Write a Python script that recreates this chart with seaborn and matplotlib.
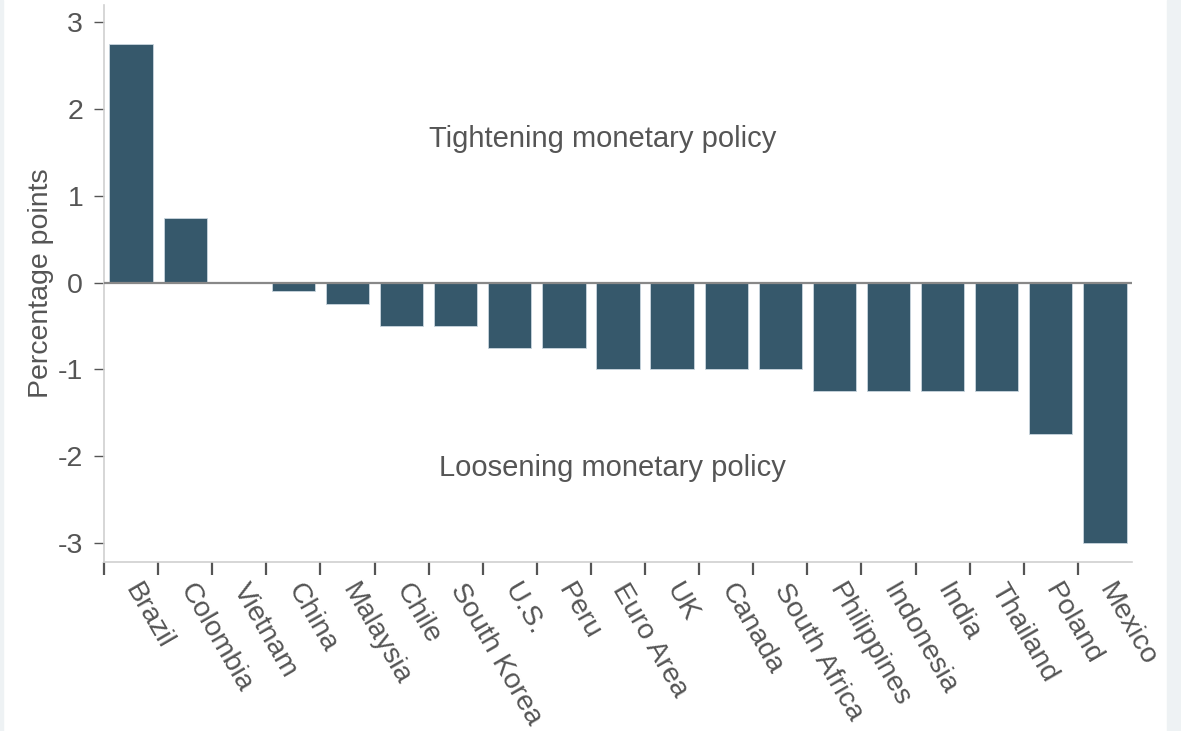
import matplotlib
matplotlib.use("Agg")
import matplotlib.pyplot as plt
import matplotlib.patches as mpatches
import seaborn as sns
import numpy as np
import pandas as pd

# Data
countries = ["Brazil", "Colombia", "Vietnam", "China", "Malaysia", "Chile",
             "South Korea", "U.S.", "Peru", "Euro Area", "UK", "Canada",
             "South Africa", "Philippines", "Indonesia", "India", "Thailand",
             "Poland", "Mexico"]
change = [2.75, 0.75, 0.0, -0.1, -0.25, -0.5, -0.5, -0.75, -0.75, -1.0, -1.0,
          -1.0, -1.0, -1.25, -1.25, -1.25, -1.25, -1.75, -3.0]
yticks = [-3, -2, -1, 0, 1, 2, 3]

df = pd.DataFrame({"country": countries, "change": change})

sns.set_style("white")
plt.rcParams["font.family"] = ["Liberation Sans", "DejaVu Sans"]

text_col = "#555555"
bar_col = "#36586b"
fs = 20.5

fig = plt.figure(figsize=(11.81, 7.31), dpi=100)
# light side strips
fig.patches.append(mpatches.Rectangle((1167 / 1181, 0), 14 / 1181, 1, transform=fig.transFigure,
                                      color="#eef2f4", zorder=0))
fig.patches.append(mpatches.Rectangle((0, 0), 3 / 1181, 1, transform=fig.transFigure,
                                      color="#eef2f4", zorder=0))
ax = fig.add_axes([104 / 1181, 1 - 562 / 731, 1028 / 1181, 557 / 731])

sns.barplot(data=df, x="country", y="change", color=bar_col, saturation=1,
            width=0.8, edgecolor="#c9d6de", linewidth=0.6, ax=ax)

ax.set_xlim(-0.5, 18.5)
ax.set_ylim(-3.22, 3.2)
ax.axhline(0, color="#888888", lw=1.6, zorder=3)

ax.set_yticks(yticks)
ax.set_yticklabels([str(v) for v in yticks], fontsize=fs, color=text_col)
ax.tick_params(axis="y", which="major", left=True, length=7, width=1,
               color="#555555", pad=8)

ax.set_xticks(np.arange(len(countries)))
ax.set_xticklabels(countries, fontsize=fs, color=text_col, rotation=-60,
                   ha="left", va="center", rotation_mode="anchor")
ax.set_xticks(np.arange(-0.5, len(countries) - 1, 1), minor=True)
ax.tick_params(axis="x", which="major", length=0, pad=17)
ax.tick_params(axis="x", which="minor", bottom=True, length=9, width=1.6,
               color="#555555")

for side in ["top", "right"]:
    ax.spines[side].set_visible(False)
for side in ["left", "bottom"]:
    ax.spines[side].set_color("#d0d0d0")
    ax.spines[side].set_linewidth(1.2)

ax.set_xlabel("")
ax.set_ylabel("Percentage points", fontsize=fs, color=text_col, labelpad=3)

ax.text(8.72, 1.66, "Tightening monetary policy", fontsize=21, color=text_col,
        ha="center", va="center")
ax.text(8.9, -2.14, "Loosening monetary policy", fontsize=21, color=text_col,
        ha="center", va="center")

fig.savefig("out.png", dpi=100)
